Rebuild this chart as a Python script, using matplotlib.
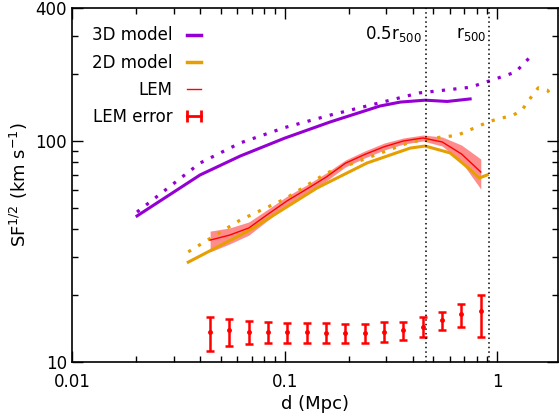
import matplotlib
matplotlib.use("Agg")
import matplotlib.pyplot as plt
from matplotlib.lines import Line2D

# 3D model (solid and dotted)
d_3d = [0.0202, 0.040, 0.0618, 0.100, 0.164, 0.281, 0.350, 0.458, 0.582, 0.746]
sf_3d = [45.8, 70.2, 85.5, 103, 122, 144, 150, 153, 151, 155]
d_3d_dot = [0.0202, 0.040, 0.0618, 0.100, 0.164, 0.281, 0.43, 0.746, 0.92, 1.22, 1.43]
sf_3d_dot = [47.7, 79.5, 98, 115, 131, 149, 165, 175, 187, 205, 240]

# 2D model (solid and dotted)
d_2d = [0.0352, 0.0688, 0.142, 0.244, 0.390, 0.458, 0.601, 0.722, 0.823, 0.897]
sf_2d = [28.3, 39.6, 61.3, 79.5, 92.9, 94.9, 88.3, 76.3, 68.0, 70.2]
d_2d_dot = [0.0352, 0.0618, 0.100, 0.158, 0.390, 0.539, 0.648, 0.805, 0.927,
            1.19, 1.31, 1.38, 1.56, 1.72, 1.84]
sf_2d_dot = [31.5, 43.9, 54.6, 71.7, 98.9, 104, 106, 116, 123,
             131, 138, 149, 174, 170, 157]

# LEM measurement
d_lem = [0.0446, 0.055, 0.0678, 0.0836, 0.103, 0.127, 0.157, 0.193,
         0.238, 0.294, 0.362, 0.447, 0.551, 0.679, 0.837]
sf_lem = [35.6, 37.5, 40.4, 46.7, 53.7, 60.6, 68.7, 79.3,
          86.9, 94.2, 100, 103.2, 99, 87.4, 72.4]
sf_lem_lo = [31.5, 34.2, 37.5, 43.9, 51.3, 58.2, 65.9, 76.3,
             83.8, 91.0, 96.8, 100, 94.9, 80.4, 60.6]
sf_lem_hi = [39.1, 40.4, 43.0, 49.2, 56.4, 63.2, 71.7, 82.0,
             90.1, 97.9, 103.2, 106.4, 104.3, 95.9, 82.9]

# LEM error
err_mid = [13.7, 13.9, 13.7, 13.6, 13.6, 13.6, 13.5, 13.5, 13.5, 13.6, 13.9, 14.4, 15.5, 16.5, 17.0]
err_lo = [11.2, 11.85, 12.0, 12.15, 12.2, 12.15, 12.15, 12.15, 12.15, 12.3, 12.6, 13.0, 13.9, 14.4, 13.0]
err_hi = [15.9, 15.6, 15.3, 15.1, 15.0, 15.0, 15.0, 14.9, 14.8, 15.1, 15.2, 15.9, 16.9, 18.3, 20.1]

r500 = 0.92
r_lines = [0.5 * r500, r500]

PURPLE = "#9400d3"
ORANGE = "#e69f00"
RED = "#ff0000"
DOT = (0, (1, 2.6))

plt.rcParams["font.family"] = "DejaVu Sans"
fig = plt.figure(figsize=(5.59, 4.18), dpi=100)
ax = fig.add_axes([0.129, 0.134, 0.869, 0.847])

ax.plot(d_3d, sf_3d, color=PURPLE, lw=2.2)
ax.plot(d_3d_dot, sf_3d_dot, color=PURPLE, lw=2.3, ls=DOT, dash_capstyle="butt")
ax.plot(d_2d, sf_2d, color=ORANGE, lw=2.2)
ax.plot(d_2d_dot, sf_2d_dot, color=ORANGE, lw=2.3, ls=DOT, dash_capstyle="butt")

ax.fill_between(d_lem, sf_lem_lo, sf_lem_hi, color=RED, alpha=0.45, lw=0)
ax.plot(d_lem, sf_lem, color=RED, lw=1.0)

yerr = [[m - l for m, l in zip(err_mid, err_lo)], [h - m for m, h in zip(err_mid, err_hi)]]
ax.errorbar(d_lem, err_mid, yerr=yerr, fmt="o", ms=2.5, color=RED, ecolor=RED,
            elinewidth=1.8, capsize=3, capthick=1.8)

for r in r_lines:
    ax.axvline(r, color="black", lw=1.1, ls=(0, (1, 2)))
ax.text(r_lines[0] * 0.965, 305, "0.5r$_{500}$", ha="right", va="center", fontsize=12)
ax.text(r_lines[1] * 0.965, 305, "r$_{500}$", ha="right", va="center", fontsize=12)

ax.set_xscale("log")
ax.set_yscale("log")
ax.set_xlim(0.01, 1.93)
ax.set_ylim(10, 400)
ax.set_xticks([0.01, 0.1, 1])
ax.set_xticklabels(["0.01", "0.1", "1"])
ax.set_yticks([10, 100, 400])
ax.set_yticklabels(["10", "100", "400"])
ax.tick_params(which="both", direction="in", top=True, right=True, labelsize=12)
ax.tick_params(which="major", length=8, width=1)
ax.tick_params(which="minor", length=4, width=1)
ax.tick_params(axis="x", pad=8)
for s in ax.spines.values():
    s.set_linewidth(1.2)

ax.set_xlabel("d (Mpc)", fontsize=13, labelpad=3)
ax.set_ylabel("SF$^{1/2}$ (km s$^{-1}$)", fontsize=13)

handles = [
    Line2D([], [], color=PURPLE, lw=2.5),
    Line2D([], [], color=ORANGE, lw=2.5),
    Line2D([], [], color=RED, lw=1.0),
    Line2D([], [], color=RED, lw=2.0, marker="|", ms=8, mew=2),
]
ax.legend(handles, ["3D model", "2D model", "LEM", "LEM error"], loc="upper left",
          bbox_to_anchor=(0.01, 0.99), markerfirst=False, frameon=False, fontsize=12,
          handlelength=1.4, labelspacing=0.55, numpoints=2, handletextpad=0.6)

fig.savefig("out.png", dpi=100)
